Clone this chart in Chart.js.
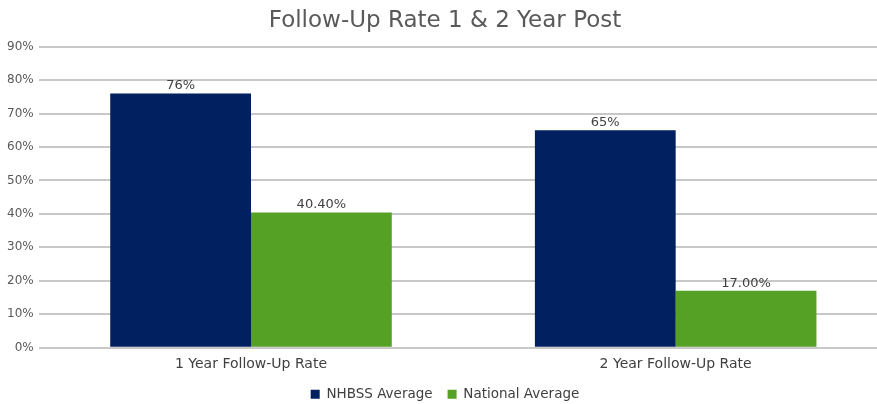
<!DOCTYPE html>
<html>
<head>
<meta charset="utf-8">
<script src="https://cdn.jsdelivr.net/npm/chart.js@4"></script>
<style>
  html, body { margin: 0; padding: 0; background: #fff; overflow: hidden; }
  #wrap { width: 888px; height: 411px; }
</style>
</head>
<body>
<div id="wrap"><canvas id="chart"></canvas></div>
<script>
const categories = ["1 Year Follow-Up Rate", "2 Year Follow-Up Rate"];
const nhbssValues = [76, 65];
const nationalValues = [40.4, 17.0];
const nhbssLabels = ["76%", "65%"];
const nationalLabels = ["40.40%", "17.00%"];
const yTicks = [0, 10, 20, 30, 40, 50, 60, 70, 80, 90];

const font = "'DejaVu Sans', Tahoma, sans-serif";

// draw value labels above each bar
const barLabels = {
    id: "barLabels",
    afterDatasetsDraw(chart) {
        const c = chart.ctx;
        c.save();
        c.font = "13px " + font;
        c.fillStyle = "#404040";
        c.textAlign = "center";
        c.textBaseline = "bottom";
        const texts = [nhbssLabels, nationalLabels];
        chart.data.datasets.forEach((ds, i) => {
            chart.getDatasetMeta(i).data.forEach((bar, j) => {
                c.fillText(texts[i][j], bar.x, bar.y - 1);
            });
        });
        c.restore();
    }
};

const ctx = document.getElementById("chart").getContext("2d");

const chart = new Chart(ctx, {
    type: "bar",
    data: {
        labels: categories,
        datasets: [{
            label: "NHBSS Average",
            data: nhbssValues,
            backgroundColor: "#002060"
        }, {
            label: "National Average",
            data: nationalValues,
            backgroundColor: "#55A125"
        }]
    },
    options: {
        responsive: true,
        maintainAspectRatio: false,
        animation: false,
        categoryPercentage: 0.663,
        barPercentage: 1,
        layout: { padding: { left: 2, right: 0, top: 0, bottom: 0 } },
        plugins: {
            title: {
                display: true,
                text: "Follow-Up Rate 1 & 2 Year Post",
                color: "#595959",
                font: { family: font, size: 23, weight: "normal" },
                padding: { top: 7, bottom: 12 }
            },
            legend: {
                position: "bottom",
                labels: {
                    color: "#404040",
                    font: { family: font, size: 13.5 },
                    boxWidth: 9,
                    boxHeight: 9,
                    padding: 15
                }
            },
            tooltip: { enabled: false }
        },
        scales: {
            x: {
                grid: { display: false },
                border: { display: false },
                ticks: { color: "#404040", font: { family: font, size: 14 }, padding: 0 }
            },
            y: {
                min: 0,
                max: 90,
                afterBuildTicks(axis) {
                    axis.ticks = yTicks.map(v => ({ value: v }));
                },
                grid: { color: "#c8c8c8", lineWidth: 2, drawTicks: false },
                border: { display: false },
                ticks: {
                    color: "#595959",
                    font: { family: font, size: 12 },
                    padding: 5,
                    callback: v => v + "%"
                }
            }
        }
    },
    plugins: [barLabels]
});
</script>
</body>
</html>
